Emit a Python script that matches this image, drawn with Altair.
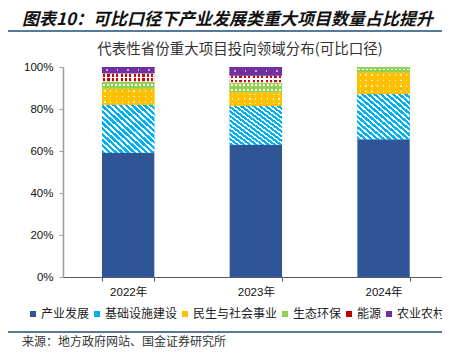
import altair as alt
import pandas as pd

# ---------------- data ----------------
years = ["2022年", "2023年", "2024年"]
categories = ["产业发展", "基础设施建设", "民生与社会事业", "生态环保", "能源", "农业农村"]
share_2022 = [59.2, 23.0, 7.6, 3.2, 4.0, 3.0]
share_2023 = [63.0, 18.6, 6.4, 4.5, 3.4, 4.1]
share_2024 = [65.6, 21.5, 10.4, 2.5, 0.0, 0.0]
y_ticks = [0, 0.2, 0.4, 0.6, 0.8, 1.0]

title_text = "图表10：可比口径下产业发展类重大项目数量占比提升"
subtitle_text = "代表性省份重大项目投向领域分布(可比口径)"
source_text = "来源：地方政府网站、国金证券研究所"

colors = ["#2F5597", "#00B0F0", "#FFC000", "#92D050", "#C00000", "#7030A0"]

rows = []
for yr, vals in zip(years, [share_2022, share_2023, share_2024]):
    for i, (c, v) in enumerate(zip(categories, vals)):
        rows.append({"year": yr, "category": c, "order": i, "value": v})
df = pd.DataFrame(rows)

# ---------------- layout ----------------
W, H = 379, 210
FONT_CJK = "Noto Sans CJK SC"
FONT_NUM = "Liberation Sans, Noto Sans CJK SC"


def stack(chart):
    return chart.transform_stack(
        stack="value", groupby=["year"], as_=["y0", "y1"], offset="normalize",
        sort=[alt.SortField("order", "ascending")],
    )


x_enc = alt.X(
    "year:N", sort=years,
    scale=alt.Scale(domain=years, paddingInner=0.59, paddingOuter=0.279, align=0.547),
    axis=alt.Axis(title=None, labelAngle=0, tickBand="extent"),
)
y_enc = alt.Y(
    "y0:Q", scale=alt.Scale(domain=[0, 1]),
    axis=alt.Axis(title=None, format=".0%", values=y_ticks, grid=False),
)

main = stack(alt.Chart(df)).mark_bar().encode(
    x=x_enc, y=y_enc, y2="y1:Q",
    color=alt.Color(
        "category:N",
        scale=alt.Scale(domain=categories, range=colors),
        legend=alt.Legend(
            title=None, orient="none", legendX=-36, legendY=241,
            direction="horizontal", columns=6, symbolType="square", symbolSize=36,
            symbolStrokeWidth=0, labelFont=FONT_CJK, labelFontSize=12,
            labelColor="#222222", columnPadding=1, labelOffset=2, padding=0,
        ),
    ),
)


# ---------------- pattern helpers (styles only) ----------------
def r(v):
    return round(min(max(v, 0.0), 1.0), 5)


def band_stripes(c_wide, c_narrow, n, frac, along_y):
    stops = []
    for k in range(n):
        a = k / n
        b = (k + (1 - frac) / 2) / n
        c = (k + (1 + frac) / 2) / n
        d = (k + 1) / n
        stops += [(a, c_wide), (b, c_wide), (b, c_narrow), (c, c_narrow), (c, c_wide), (d, c_wide)]
    g = [alt.GradientStop(offset=r(o), color=col) for o, col in stops]
    if along_y:
        return alt.LinearGradient(gradient="linear", stops=g, x1=0, y1=0, x2=0, y2=1)
    return alt.LinearGradient(gradient="linear", stops=g, x1=0, y1=0, x2=1, y2=0)


def hatch(c1, c2, n, frac):
    stops = []
    for k in range(n):
        a = k / n
        b = (k + frac) / n
        d = (k + 1) / n
        stops += [(a, c1), (b, c1), (b, c2), (d, c2)]
    g = [alt.GradientStop(offset=r(o), color=col) for o, col in stops]
    return alt.LinearGradient(gradient="linear", stops=g, x1=0, y1=1, x2=1, y2=0)


CLEAR = "rgba(255,255,255,0)"
dot_styles = {
    "民生与社会事业": dict(bg="#FFC000", dot="#FFF3CF", nx=9, fx=0.22, py=5.0, fy=0.3),
    "生态环保": dict(bg="#92D050", dot="#FFFFFF", nx=13, fx=0.5, py=4.5, fy=0.3),
    "能源": dict(bg="#FFFFFF", dot="#D00000", nx=12, fx=0.5, py=4.2, fy=0.55),
    "农业农村": dict(bg="#7030A0", dot="#C7A6DF", nx=5, fx=0.14, py=6.5, fy=0.24),
}

overlays = []
for row in rows:
    if row["value"] <= 0 or row["category"] == "产业发展":
        continue
    flt = f"datum.year === '{row['year']}' && datum.category === '{row['category']}'"
    base = stack(alt.Chart(df)).transform_filter(flt)
    enc = dict(x=x_enc, y=y_enc, y2="y1:Q")
    if row["category"] == "基础设施建设":
        overlays.append(base.mark_bar(fill=hatch("#00B0F0", "#FFFFFF", 17, 0.58)).encode(**enc))
        continue
    st = dot_styles[row["category"]]
    h_px = row["value"] / 100 * H
    ny = max(1, int(round(h_px / st["py"])))
    overlays.append(base.mark_bar(fill=band_stripes(st["bg"], st["dot"], st["nx"], st["fx"], False)).encode(**enc))
    overlays.append(base.mark_bar(fill=band_stripes(st["bg"], CLEAR, ny, st["fy"], True)).encode(**enc))

# ---------------- decorations ----------------
one = alt.Data(values=[{"k": 1}])
title = alt.Chart(one).mark_text(
    text=title_text, align="left", baseline="middle", font=FONT_CJK, fontSize=17,
    fontWeight="bold", fontStyle="italic", color="#111111",
).encode(x=alt.value(-41), y=alt.value(-47))
top_line = alt.Chart(one).mark_rule(color="#1F4E79", strokeWidth=1.5).encode(
    x=alt.value(-55), x2=alt.value(379), y=alt.value(-36))
subtitle = alt.Chart(one).mark_text(
    text=subtitle_text, align="center", baseline="middle", font=FONT_CJK, fontSize=14.5,
    color="#333333",
).encode(x=alt.value(177), y=alt.value(-17))
bottom_line = alt.Chart(one).mark_rule(color="#1F4E79", strokeWidth=1.5).encode(
    x=alt.value(-55), x2=alt.value(379), y=alt.value(265))
source = alt.Chart(one).mark_text(
    text=source_text, align="left", baseline="middle", font=FONT_CJK, fontSize=12,
    color="#333333",
).encode(x=alt.value(-41), y=alt.value(275))

chart = alt.layer(main, *overlays, title, top_line, subtitle, bottom_line, source).properties(
    width=W, height=H,
    autosize=alt.AutoSizeParams(type="none"),
    padding={"left": 55, "top": 59, "right": 0, "bottom": 72},
).configure_view(stroke=None).configure_axisY(
    domainColor="#9A9A9A", domainWidth=1.5, tickColor="#9A9A9A", tickSize=4,
    labelFont=FONT_NUM, labelFontSize=11.5, labelColor="#111111", labelPadding=6,
).configure_axisX(
    domainColor="#595959", domainWidth=1, tickColor="#595959", tickSize=4,
    labelFont=FONT_NUM, labelFontSize=11.5, labelColor="#111111", labelPadding=5,
)

chart.save("out.html", embed_options={"renderer": "svg", "actions": False})
